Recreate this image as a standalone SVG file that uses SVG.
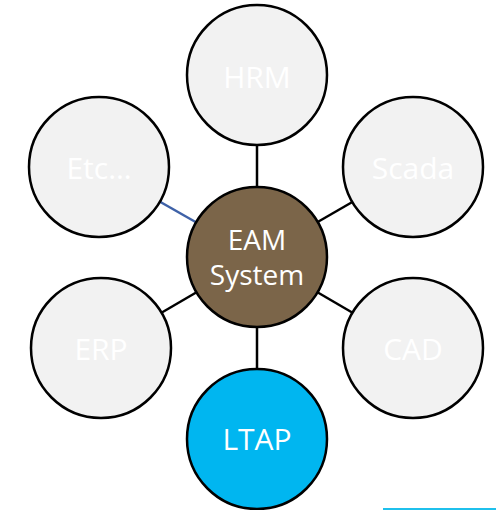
<svg xmlns="http://www.w3.org/2000/svg" width="496" height="510" viewBox="0 0 496 510">
<style>
.c{stroke:#000;stroke-width:2.5}
.g{fill:#F2F2F2}
.t{font-family:"Open Sans",sans-serif;font-size:30px;fill:#fff;text-anchor:middle}
.e{font-size:28px}
.l{stroke:#000;stroke-width:2.5}
</style>
<rect width="496" height="510" fill="#fff"/>
<g id="connectors">
<line class="l" x1="257" y1="75" x2="257" y2="257"/>
<line class="l" x1="257" y1="257" x2="257" y2="439"/>
<line class="l" x1="257" y1="257" x2="413" y2="167"/>
<line class="l" x1="257" y1="257" x2="413" y2="348"/>
<line class="l" x1="257" y1="257" x2="101" y2="348"/>
<line x1="257" y1="257" x2="99" y2="167" stroke="#3F62A8" stroke-width="2.5"/>
</g>
<g id="hrm"><circle class="c g" cx="257" cy="75" r="70"/><text class="t" x="257" y="88">HRM</text></g>
<g id="scada"><circle class="c g" cx="413" cy="167" r="70"/><text class="t" x="413" y="179">Scada</text></g>
<g id="cad"><circle class="c g" cx="413" cy="348" r="70"/><text class="t" x="413" y="360">CAD</text></g>
<g id="erp"><circle class="c g" cx="101" cy="348" r="70"/><text class="t" x="101" y="360">ERP</text></g>
<g id="etc"><circle class="c g" cx="99" cy="167" r="70"/><text class="t" x="99" y="179">Etc…</text></g>
<g id="eam"><circle class="c" cx="257" cy="257" r="70" fill="#7B6549"/><text class="t e" x="257" y="250">EAM</text><text class="t e" x="257" y="285">System</text></g>
<g id="ltap"><circle class="c" cx="257" cy="439" r="70" fill="#00B6F0"/><text class="t" x="257" y="450">LTAP</text></g>
<line x1="383" y1="509" x2="496" y2="509" stroke="#1FC0EC" stroke-width="2"/>
</svg>
